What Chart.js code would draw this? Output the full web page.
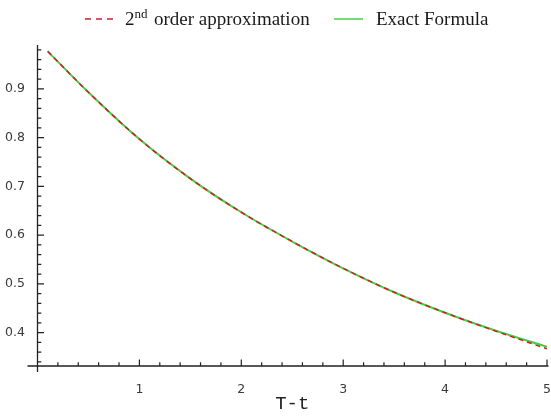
<!DOCTYPE html>
<html lang="en">
<head>
    <meta charset="UTF-8">
    <title>2nd order approximation vs exact formula</title>
    <script src="https://cdn.jsdelivr.net/npm/chart.js"></script>
    <style>
        * {
            margin: 0;
            padding: 0;
            box-sizing: border-box;
        }

        body {
            background: #fff;
        }

        canvas {
            display: block;
        }
    </style>
</head>
<body>
    <canvas id="plot" width="551" height="416"></canvas>

    <script>
        // values
        const timeToMaturity = [0.1, 0.5, 1, 1.5, 2, 2.5, 3, 3.5, 4, 4.5, 5];
        const exactFormula   = [0.977, 0.893, 0.797, 0.716, 0.647, 0.587, 0.532, 0.483, 0.441, 0.404, 0.371];
        const secondOrder    = [0.977, 0.893, 0.797, 0.716, 0.647, 0.587, 0.532, 0.483, 0.441, 0.403, 0.367];

        const xTicks = [1, 2, 3, 4, 5];
        const yTicks = [0.4, 0.5, 0.6, 0.7, 0.8, 0.9];
        const xRange = [0, 5];
        const yRange = [0.3317, 0.99];

        const RED = '#cc1f2a';
        const GREEN = '#4ccc44';
        const AXIS = '#222';

        function toPoints(xs, ys) {
            return xs.map((x, i) => ({ x: x, y: ys[i] }));
        }

        // Mathematica style axes: lines through the origin, ticks pointing inward
        const mathAxes = {
            id: 'mathAxes',
            beforeDatasetsDraw(chart) {
                const { ctx, scales: { x, y } } = chart;
                const x0 = x.getPixelForValue(xRange[0]);
                const y0 = y.getPixelForValue(yRange[0]);
                ctx.save();
                ctx.strokeStyle = AXIS;
                ctx.lineWidth = 1.3;

                ctx.beginPath();
                ctx.moveTo(x0 - 10, y0);
                ctx.lineTo(x.getPixelForValue(xRange[1]) + 1.5, y0);
                ctx.moveTo(x0, y.getPixelForValue(yRange[1]));
                ctx.lineTo(x0, y0 + 6);
                ctx.stroke();

                ctx.lineWidth = 1.2;
                ctx.beginPath();
                // x ticks, minor every 0.2
                for (let k = 1; k <= 25; k++) {
                    const px = x.getPixelForValue(k * 0.2);
                    const len = k % 5 === 0 ? 6.5 : 3.8;
                    ctx.moveTo(px, y0);
                    ctx.lineTo(px, y0 - len);
                }
                // y ticks, minor every 0.02
                for (let k = 17; k <= 49; k++) {
                    const py = y.getPixelForValue(k * 0.02);
                    const len = k % 5 === 0 ? 6.5 : 3.8;
                    ctx.moveTo(x0, py);
                    ctx.lineTo(x0 + len, py);
                }
                ctx.stroke();
                ctx.restore();
            }
        };

        // legend with the superscript
        const topLegend = {
            id: 'topLegend',
            afterDraw(chart) {
                const ctx = chart.ctx;
                const lineY = 19;
                const base = 25;
                ctx.save();
                ctx.lineWidth = 1.5;

                ctx.strokeStyle = RED;
                ctx.setLineDash([6, 5]);
                ctx.beginPath();
                ctx.moveTo(85, lineY);
                ctx.lineTo(118, lineY);
                ctx.stroke();

                ctx.strokeStyle = GREEN;
                ctx.setLineDash([]);
                ctx.beginPath();
                ctx.moveTo(334, lineY);
                ctx.lineTo(363, lineY);
                ctx.stroke();

                ctx.fillStyle = '#1a1a1a';
                ctx.textBaseline = 'alphabetic';
                ctx.textAlign = 'left';
                ctx.font = '19px "Liberation Serif", serif';
                ctx.fillText('2', 125, base);
                ctx.font = '13px "Liberation Serif", serif';
                ctx.fillText('nd', 134.5, base - 7);
                ctx.font = '19px "Liberation Serif", serif';
                ctx.fillText('order approximation', 154, base);
                ctx.fillText('Exact Formula', 376, base);
                ctx.restore();
            }
        };

        const ctx = document.getElementById('plot').getContext('2d');

        new Chart(ctx, {
            type: 'line',
            data: {
                datasets: [{
                    label: '2nd order approximation',
                    data: toPoints(timeToMaturity, secondOrder),
                    borderColor: RED,
                    borderWidth: 1.5,
                    borderDash: [5, 4],
                    pointRadius: 0,
                    cubicInterpolationMode: 'monotone',
                    fill: false
                }, {
                    label: 'Exact Formula',
                    data: toPoints(timeToMaturity, exactFormula),
                    borderColor: GREEN,
                    borderWidth: 2,
                    pointRadius: 0,
                    cubicInterpolationMode: 'monotone',
                    fill: false
                }]
            },
            options: {
                responsive: false,
                animation: false,
                layout: {
                    padding: { top: 45, right: 4, left: 0, bottom: 0 }
                },
                scales: {
                    x: {
                        type: 'linear',
                        min: xRange[0],
                        max: xRange[1],
                        grid: { display: false },
                        border: { display: false },
                        afterBuildTicks: (scale) => {
                            scale.ticks = xTicks.map(v => ({ value: v }));
                        },
                        afterFit: (scale) => {
                            scale.height = 50;
                            scale.paddingLeft = 0;
                            scale.paddingRight = 0;
                        },
                        ticks: {
                            padding: 8,
                            maxRotation: 0,
                            color: '#3a3a3a',
                            font: { family: '"DejaVu Sans", sans-serif', size: 12.5 },
                            callback: (v) => String(v)
                        },
                        title: {
                            display: true,
                            text: 'T-t',
                            color: '#222',
                            font: { family: '"Liberation Mono", monospace', size: 19 },
                            padding: { top: 0, bottom: 1 }
                        }
                    },
                    y: {
                        type: 'linear',
                        min: yRange[0],
                        max: yRange[1],
                        grid: { display: false },
                        border: { display: false },
                        afterBuildTicks: (scale) => {
                            scale.ticks = yTicks.map(v => ({ value: v }));
                        },
                        afterFit: (scale) => {
                            scale.width = 37.5;
                        },
                        ticks: {
                            padding: 4.5,
                            color: '#3a3a3a',
                            font: { family: '"DejaVu Sans", sans-serif', size: 12.5 },
                            callback: (v) => v.toFixed(1)
                        }
                    }
                },
                plugins: {
                    legend: { display: false },
                    tooltip: { enabled: false }
                }
            },
            plugins: [mathAxes, topLegend]
        });
    </script>
</body>
</html>
